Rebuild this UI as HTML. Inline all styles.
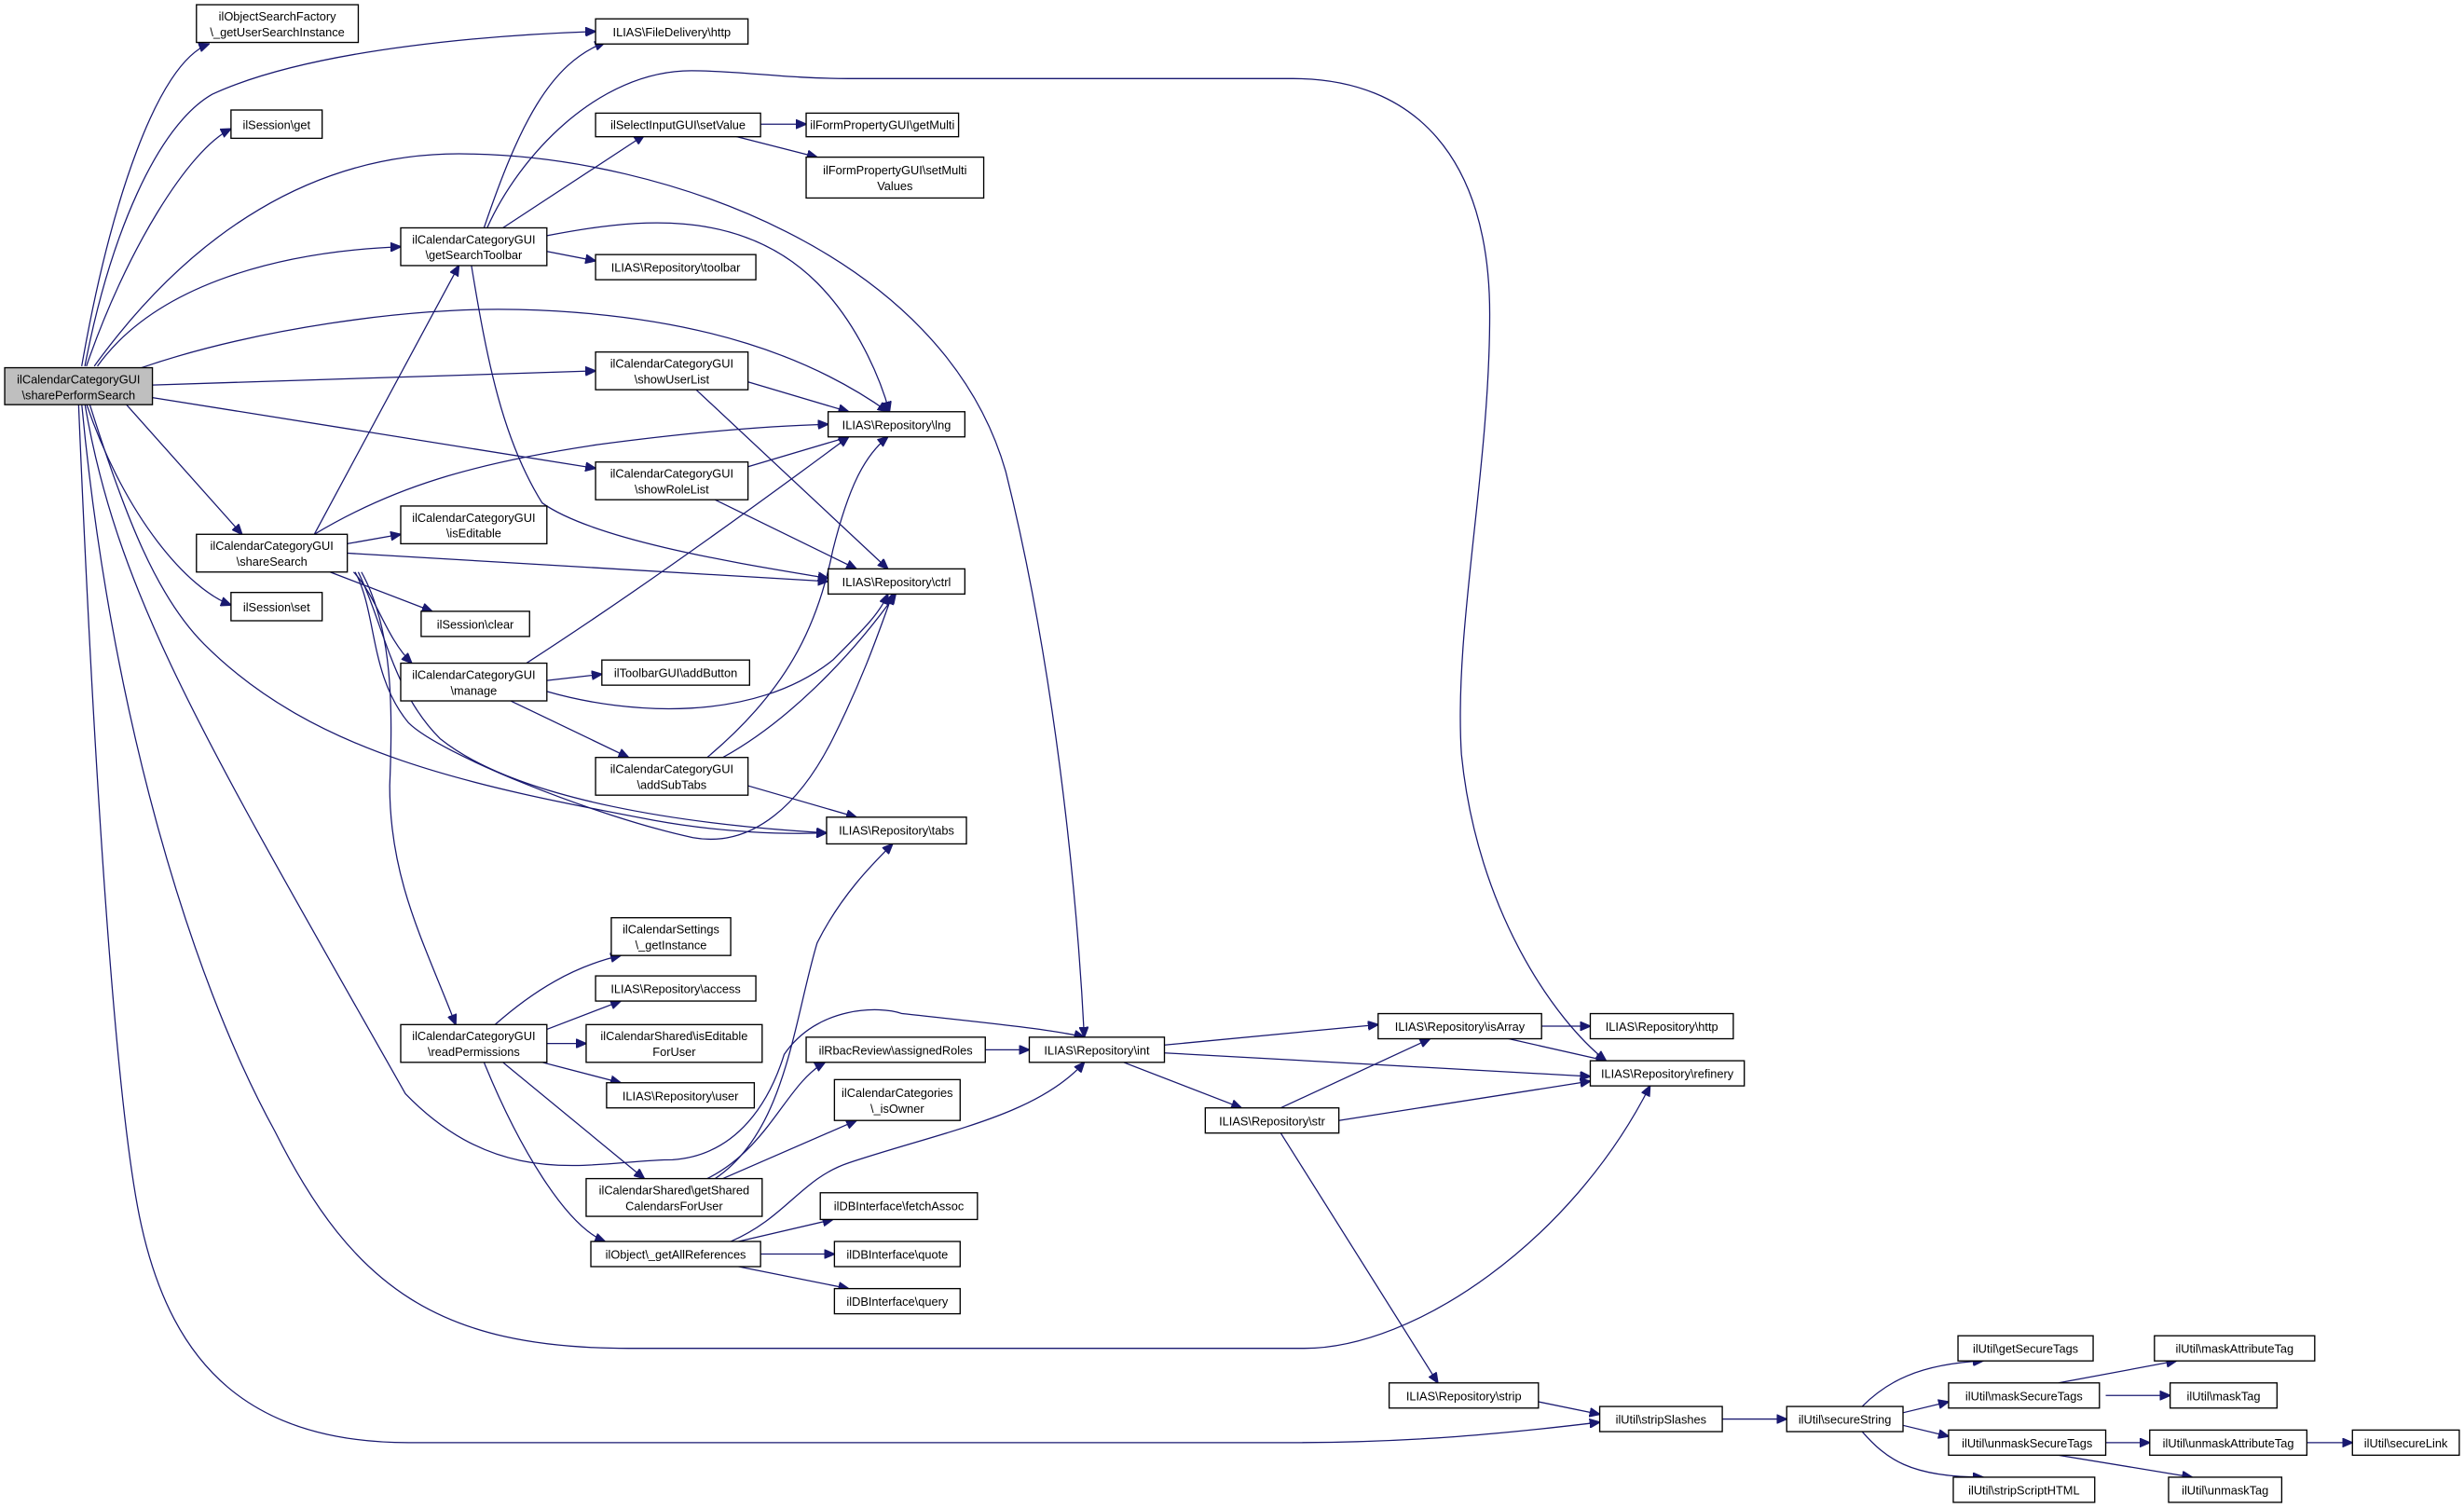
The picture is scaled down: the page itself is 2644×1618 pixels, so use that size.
<!DOCTYPE html>
<html><head><meta charset="utf-8"><style>
html,body{margin:0;padding:0;background:#fff;}
svg{display:block;}
text{font-family:"Liberation Sans",sans-serif;font-size:7.6px;fill:#000;text-anchor:middle;}
.e{fill:none;stroke:#191970;stroke-width:0.75;}
.n{fill:#fff;stroke:#000;stroke-width:0.8;}
</style></head><body>
<svg width="2644" height="1618" viewBox="0 0 1568 959.6" preserveAspectRatio="none" xmlns="http://www.w3.org/2000/svg">
<defs><marker id="a" markerWidth="7" markerHeight="6" refX="6.5" refY="3" orient="auto" markerUnits="userSpaceOnUse"><path d="M0,0 L7,3 L0,6 z" fill="#191970" stroke="#191970" stroke-width="0.5"/></marker></defs>
<g marker-end="url(#a)">
<path class="e" d="M52,233 C70,130 100,40 133,28"/>
<path class="e" d="M54,233 C70,150 100,80 135,60 C200,30 320,22 379,20"/>
<path class="e" d="M55,233 C80,160 120,95 147,82"/>
<path class="e" d="M60,233 C120,150 200,95 300,98 C420,100 600,160 640,300 C670,420 685,560 690,660"/>
<path class="e" d="M62,233 C100,180 180,160 255,157"/>
<path class="e" d="M90,234 C160,210 260,195 330,197 C450,200 520,230 565,262"/>
<path class="e" d="M97,245 L379,236"/>
<path class="e" d="M97,253 L379,298"/>
<path class="e" d="M80,257 L154,340"/>
<path class="e" d="M55,257 C80,330 120,375 147,385"/>
<path class="e" d="M57,257 C80,330 100,380 130,410 C200,480 300,500 416,522 C460,530 500,531 526,530"/>
<path class="e" d="M54,257 C75,380 130,470 258,696 C320,760 380,738 428,738 C470,735 490,700 499,671 C520,640 560,640 574,645 C620,650 670,655 690,660"/>
<path class="e" d="M52,257 C70,450 120,620 175,720 C225,820 280,858 400,858 L830,858 C900,858 1000,790 1050,691"/>
<path class="e" d="M50,257 C58,450 72,700 90,780 C110,870 160,918 260,918 L820,918 C900,918 960,912 1018,905"/>
<path class="e" d="M308,145 C330,80 350,40 385,27"/>
<path class="e" d="M310,145 C330,100 380,45 440,45 C470,45 500,50 540,50 L823,50 C900,50 948,100 948,200 C948,300 925,400 930,480 C940,580 990,650 1022,675"/>
<path class="e" d="M320,145 L410,86"/>
<path class="e" d="M348,160 L379,166"/>
<path class="e" d="M348,150 C400,140 470,130 520,180 C545,205 560,240 566,262"/>
<path class="e" d="M300,169 C310,230 320,280 345,320 C380,345 480,360 527,368"/>
<path class="e" d="M484,79 L513,79"/>
<path class="e" d="M465,86 L520,100"/>
<path class="e" d="M476,243 L540,262"/>
<path class="e" d="M443,248 L565,362"/>
<path class="e" d="M476,297 L540,278"/>
<path class="e" d="M455,318 L545,362"/>
<path class="e" d="M200,340 L292,169"/>
<path class="e" d="M200,340 C250,310 300,295 380,283 C440,275 490,271 527,270"/>
<path class="e" d="M221,346 L255,340"/>
<path class="e" d="M221,352 L527,370"/>
<path class="e" d="M210,364 L275,389"/>
<path class="e" d="M225,364 C240,380 245,405 262,422"/>
<path class="e" d="M228,364 C245,400 250,440 280,470 C330,510 440,525 526,530"/>
<path class="e" d="M230,364 C250,400 250,450 248,500 C248,560 270,600 290,652"/>
<path class="e" d="M226,364 C240,390 235,430 260,460 C280,480 380,520 441,533 C480,540 510,510 530,470 C550,430 560,400 568,378"/>
<path class="e" d="M335,422 C400,380 470,330 540,278"/>
<path class="e" d="M348,433 L383,429"/>
<path class="e" d="M348,440 C400,455 480,460 530,420 C550,400 560,390 565,378"/>
<path class="e" d="M325,446 L400,482"/>
<path class="e" d="M450,482 C500,440 520,400 530,350 C540,310 550,290 565,278"/>
<path class="e" d="M460,482 C500,460 540,420 570,378"/>
<path class="e" d="M476,500 L545,520"/>
<path class="e" d="M315,652 C340,630 365,615 395,608"/>
<path class="e" d="M348,655 L395,637"/>
<path class="e" d="M348,664 L373,664"/>
<path class="e" d="M345,676 L395,689"/>
<path class="e" d="M320,676 L410,750"/>
<path class="e" d="M308,676 C330,730 360,780 385,790"/>
<path class="e" d="M450,750 C490,730 500,690 525,676"/>
<path class="e" d="M460,750 L545,713"/>
<path class="e" d="M455,750 C500,720 505,650 520,600 C535,570 555,550 568,537"/>
<path class="e" d="M470,790 L530,776"/>
<path class="e" d="M484,798 L531,798"/>
<path class="e" d="M470,806 L540,820"/>
<path class="e" d="M465,790 C500,775 510,750 540,740 C600,720 660,710 690,676"/>
<path class="e" d="M627,668 L655,668"/>
<path class="e" d="M741,665 L877,652"/>
<path class="e" d="M741,670 L1012,685"/>
<path class="e" d="M715,676 L790,705"/>
<path class="e" d="M815,705 L910,661"/>
<path class="e" d="M852,713 L1012,688"/>
<path class="e" d="M815,721 L915,880"/>
<path class="e" d="M981,653 L1012,653"/>
<path class="e" d="M960,661 L1022,675"/>
<path class="e" d="M979,892 L1018,900"/>
<path class="e" d="M1096,903 L1137,903"/>
<path class="e" d="M1185,895 C1200,880 1220,868 1262,866"/>
<path class="e" d="M1211,899 L1240,892"/>
<path class="e" d="M1211,907 L1240,914"/>
<path class="e" d="M1185,911 C1200,928 1215,940 1262,940"/>
<path class="e" d="M1310,880 L1385,866"/>
<path class="e" d="M1340,888 L1381,888"/>
<path class="e" d="M1340,918 L1368,918"/>
<path class="e" d="M1310,926 L1395,940"/>
<path class="e" d="M1468,918 L1497,918"/>
</g>
<g>
<rect x="3" y="234" width="94" height="23.5" fill="#bfbfbf" stroke="#000" stroke-width="0.8"/><text x="50" y="244">ilCalendarCategoryGUI</text><text x="50" y="254">\sharePerformSearch</text>
<rect class="n" x="125" y="3" width="103" height="24"/><text x="176.5" y="13">ilObjectSearchFactory</text><text x="176.5" y="23">\_getUserSearchInstance</text>
<rect class="n" x="379" y="12" width="97" height="16"/><text x="427.5" y="23">ILIAS\FileDelivery\http</text>
<rect class="n" x="147" y="70" width="58" height="18"/><text x="176" y="82">ilSession\get</text>
<rect class="n" x="379" y="72" width="105" height="15"/><text x="431.5" y="82">ilSelectInputGUI\setValue</text>
<rect class="n" x="513" y="72" width="97" height="15"/><text x="561.5" y="82">ilFormPropertyGUI\getMulti</text>
<rect class="n" x="513" y="100" width="113" height="26"/><text x="569.5" y="111">ilFormPropertyGUI\setMulti</text><text x="569.5" y="121">Values</text>
<rect class="n" x="255" y="145" width="93" height="24"/><text x="301.5" y="155">ilCalendarCategoryGUI</text><text x="301.5" y="165">\getSearchToolbar</text>
<rect class="n" x="379" y="162" width="102" height="16"/><text x="430" y="173">ILIAS\Repository\toolbar</text>
<rect class="n" x="379" y="224" width="97" height="24"/><text x="427.5" y="234">ilCalendarCategoryGUI</text><text x="427.5" y="244">\showUserList</text>
<rect class="n" x="527" y="262" width="87" height="16"/><text x="570.5" y="273">ILIAS\Repository\lng</text>
<rect class="n" x="379" y="294" width="97" height="24"/><text x="427.5" y="304">ilCalendarCategoryGUI</text><text x="427.5" y="314">\showRoleList</text>
<rect class="n" x="125" y="340" width="96" height="24"/><text x="173" y="350">ilCalendarCategoryGUI</text><text x="173" y="360">\shareSearch</text>
<rect class="n" x="255" y="322" width="93" height="24"/><text x="301.5" y="332">ilCalendarCategoryGUI</text><text x="301.5" y="342">\isEditable</text>
<rect class="n" x="527" y="362" width="87" height="16"/><text x="570.5" y="373">ILIAS\Repository\ctrl</text>
<rect class="n" x="147" y="377" width="58" height="18"/><text x="176" y="389">ilSession\set</text>
<rect class="n" x="268" y="389" width="69" height="16"/><text x="302.5" y="400">ilSession\clear</text>
<rect class="n" x="255" y="422" width="93" height="24"/><text x="301.5" y="432">ilCalendarCategoryGUI</text><text x="301.5" y="442">\manage</text>
<rect class="n" x="383" y="420" width="94" height="16"/><text x="430" y="431">ilToolbarGUI\addButton</text>
<rect class="n" x="379" y="482" width="97" height="24"/><text x="427.5" y="492">ilCalendarCategoryGUI</text><text x="427.5" y="502">\addSubTabs</text>
<rect class="n" x="526" y="520" width="89" height="17"/><text x="570.5" y="531">ILIAS\Repository\tabs</text>
<rect class="n" x="389" y="584" width="76" height="24"/><text x="427" y="594">ilCalendarSettings</text><text x="427" y="604">\_getInstance</text>
<rect class="n" x="379" y="621" width="102" height="16"/><text x="430" y="632">ILIAS\Repository\access</text>
<rect class="n" x="373" y="652" width="112" height="24"/><text x="429" y="662">ilCalendarShared\isEditable</text><text x="429" y="672">ForUser</text>
<rect class="n" x="255" y="652" width="93" height="24"/><text x="301.5" y="662">ilCalendarCategoryGUI</text><text x="301.5" y="672">\readPermissions</text>
<rect class="n" x="386" y="689" width="94" height="16"/><text x="433" y="700">ILIAS\Repository\user</text>
<rect class="n" x="513" y="660" width="114" height="16"/><text x="570" y="671">ilRbacReview\assignedRoles</text>
<rect class="n" x="655" y="660" width="86" height="16"/><text x="698" y="671">ILIAS\Repository\int</text>
<rect class="n" x="531" y="687" width="80" height="26"/><text x="571" y="698">ilCalendarCategories</text><text x="571" y="708">\_isOwner</text>
<rect class="n" x="373" y="750" width="112" height="24"/><text x="429" y="760">ilCalendarShared\getShared</text><text x="429" y="770">CalendarsForUser</text>
<rect class="n" x="522" y="759" width="100" height="17"/><text x="572" y="770">ilDBInterface\fetchAssoc</text>
<rect class="n" x="376" y="790" width="108" height="16"/><text x="430" y="801">ilObject\_getAllReferences</text>
<rect class="n" x="531" y="790" width="80" height="16"/><text x="571" y="801">ilDBInterface\quote</text>
<rect class="n" x="531" y="820" width="80" height="16"/><text x="571" y="831">ilDBInterface\query</text>
<rect class="n" x="877" y="645" width="104" height="16"/><text x="929" y="656">ILIAS\Repository\isArray</text>
<rect class="n" x="1012" y="645" width="91" height="16"/><text x="1057.5" y="656">ILIAS\Repository\http</text>
<rect class="n" x="1012" y="675" width="98" height="16"/><text x="1061" y="686">ILIAS\Repository\refinery</text>
<rect class="n" x="767" y="705" width="85" height="16"/><text x="809.5" y="716">ILIAS\Repository\str</text>
<rect class="n" x="884" y="880" width="95" height="16"/><text x="931.5" y="891">ILIAS\Repository\strip</text>
<rect class="n" x="1018" y="895" width="78" height="16"/><text x="1057" y="906">ilUtil\stripSlashes</text>
<rect class="n" x="1137" y="895" width="74" height="16"/><text x="1174" y="906">ilUtil\secureString</text>
<rect class="n" x="1246" y="850" width="86" height="16"/><text x="1289" y="861">ilUtil\getSecureTags</text>
<rect class="n" x="1240" y="880" width="96" height="16"/><text x="1288" y="891">ilUtil\maskSecureTags</text>
<rect class="n" x="1240" y="910" width="100" height="16"/><text x="1290" y="921">ilUtil\unmaskSecureTags</text>
<rect class="n" x="1243" y="940" width="90" height="16"/><text x="1288" y="951">ilUtil\stripScriptHTML</text>
<rect class="n" x="1371" y="850" width="102" height="16"/><text x="1422" y="861">ilUtil\maskAttributeTag</text>
<rect class="n" x="1381" y="880" width="68" height="16"/><text x="1415" y="891">ilUtil\maskTag</text>
<rect class="n" x="1368" y="910" width="100" height="16"/><text x="1418" y="921">ilUtil\unmaskAttributeTag</text>
<rect class="n" x="1380" y="940" width="72" height="16"/><text x="1416" y="951">ilUtil\unmaskTag</text>
<rect class="n" x="1497" y="910" width="68" height="16"/><text x="1531" y="921">ilUtil\secureLink</text>
</g>
</svg>
</body></html>
